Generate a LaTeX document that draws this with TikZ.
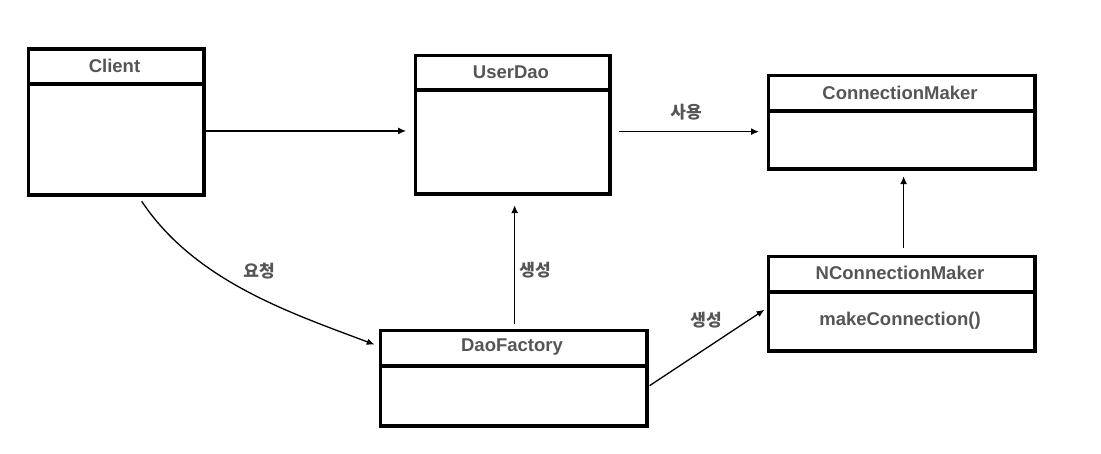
\documentclass[tikz,border=0pt]{standalone}
\usepackage{fontspec}
\setmainfont{Liberation Sans}
\newfontfamily\kr{Noto Sans CJK KR}
\usetikzlibrary{arrows.meta,calc}
\definecolor{txt}{HTML}{555555}
\begin{document}
\begin{tikzpicture}[x=1pt,y=-1pt,
  box/.style={draw, line width=3.3pt, inner sep=0pt, anchor=north west},
  title/.style={text=txt, font=\fontsize{18.5}{20}\selectfont\bfseries, inner sep=0pt},
  lbl/.style={text=txt, font=\kr\fontsize{17}{19}\selectfont\bfseries, inner sep=0pt},
  arr/.style={line width=1.6pt, -{Latex[length=8pt,width=7pt]}},
  thin/.style={line width=1.3pt, -{Latex[length=8pt,width=6.5pt]}}]
\useasboundingbox (0,0) rectangle (1101,454);
% Client
\node[box, minimum width=175.7pt, minimum height=146pt] (client) at (26.7,47.3) {};
\coordinate (clientdivL) at (26.7,84);
\draw[line width=3.3pt] (clientdivL) -- (clientdivL -| client.east);
\node[title] (clientt) at (114.5,66) {Client};
% UserDao
\node[box, minimum width=194.6pt, minimum height=138.6pt] (userdao) at (413.7,53.7) {};
\coordinate (udaodivL) at (413.7,90);
\draw[line width=3.3pt] (udaodivL) -- (udaodivL -| userdao.east);
\node[title] (userdaot) at (511,72) {UserDao};
% ConnectionMaker
\node[box, minimum width=266.7pt, minimum height=93.6pt] (cm) at (766.6,73.7) {};
\coordinate (cmdivL) at (766.6,111);
\draw[line width=3.3pt] (cmdivL) -- (cmdivL -| cm.east);
\node[title] (cmt) at (900,92.5) {ConnectionMaker};
% NConnectionMaker
\node[box, minimum width=266.7pt, minimum height=94.6pt] (ncm) at (766.6,254.7) {};
\coordinate (ncmdivL) at (766.6,292);
\draw[line width=3.3pt] (ncmdivL) -- (ncmdivL -| ncm.east);
\node[title] (ncmt) at (900,273) {NConnectionMaker};
\node[title] (ncmm) at (900,321) {makeConnection()};
% DaoFactory
\node[box, minimum width=266.6pt, minimum height=95.6pt] (df) at (378.7,328.7) {};
\coordinate (dfdivL) at (378.7,366);
\draw[line width=3.3pt] (dfdivL) -- (dfdivL -| df.east);
\node[title] (dft) at (512,347.5) {DaoFactory};
% connectors
\draw[arr] ([yshift=-9pt]client.east) -- ([yshift=-9pt,xshift=-7.5pt]client.east -| userdao.west);
\draw[arr] ([yshift=-7pt,xshift=7.5pt]userdao.east) -- ([yshift=-7pt,xshift=-7.5pt]userdao.east -| cm.west);
\node[lbl] (use) at (686,112) {사용};
\draw[arr] ([xshift=1pt,yshift=5pt]df.north) -- ([xshift=1pt,yshift=-9.5pt]df.north |- userdao.south);
\node[lbl] (gen1) at (535,270) {생성};
\draw[arr] ([xshift=2pt,yshift=6.5pt]ncm.north -| cm.south) -- ([xshift=2pt,yshift=-5.5pt]cm.south);
\draw[thin] ([xshift=25.5pt,yshift=-4.7pt]client.south) .. controls (195,281.5) and (292,313.4) .. ([xshift=-4pt,yshift=33.5pt]df.west);
\node[lbl] (req) at (259,271) {요청};
\draw[thin] ([xshift=1pt,yshift=-7.5pt]df.east) -- ([xshift=-2pt,yshift=-6pt]ncm.west);
\node[lbl] (gen2) at (706,320) {생성};
\end{tikzpicture}
\end{document}
